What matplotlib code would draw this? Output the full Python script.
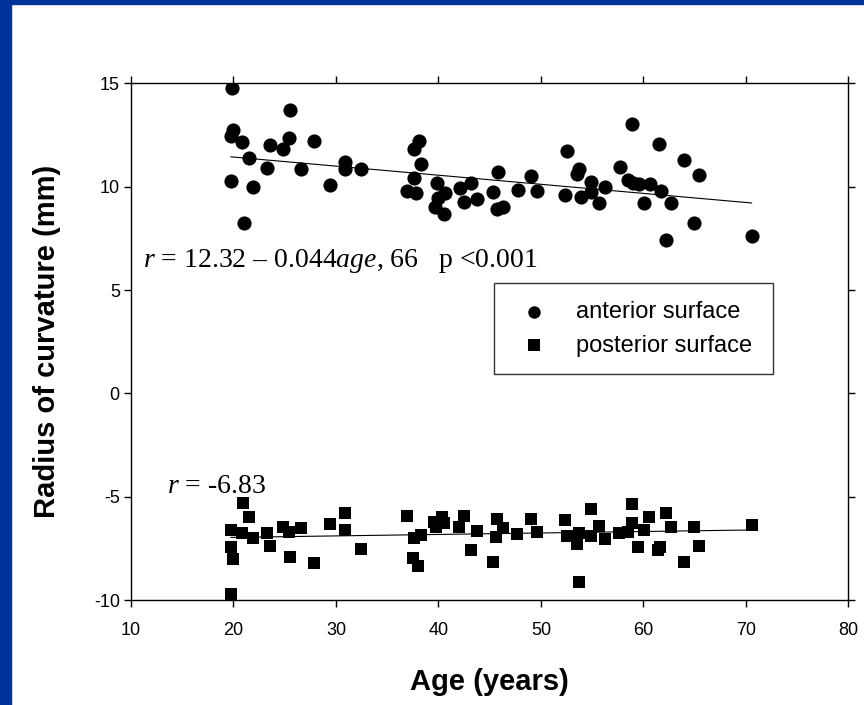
import numpy as np
import matplotlib
matplotlib.use('Agg')
import matplotlib.pyplot as plt
from matplotlib.patches import Rectangle

# anterior surface: age (years), radius of curvature (mm)
ant_age = [19.85, 20.0, 19.75, 20.8, 21.5, 19.8, 21.9, 21.0, 23.3, 23.6, 24.8, 25.4, 25.5,
           26.6, 27.85, 29.4, 30.9, 30.9, 32.4, 36.9, 37.6, 37.6, 38.1, 38.3, 37.8, 39.9,
           40.0, 40.6, 39.65, 40.5, 42.1, 42.5, 43.2, 43.8, 45.35, 45.7, 45.8, 46.3, 47.8,
           49.0, 49.6, 52.3, 52.5, 53.7, 53.55, 53.9, 54.9, 54.9, 55.65, 56.2, 57.7, 58.45,
           59.0, 58.85, 59.6, 60.6, 60.1, 61.5, 61.7, 62.65, 62.2, 64.0, 65.4, 64.9, 70.55]
ant_r = [14.77, 12.75, 12.47, 12.18, 11.38, 10.28, 9.98, 8.26, 10.93, 12.04, 11.85, 12.38, 13.70,
         10.86, 12.23, 10.07, 11.19, 10.88, 10.86, 9.78, 10.41, 11.82, 12.22, 11.10, 9.68, 10.17,
         9.44, 9.68, 9.04, 8.68, 9.93, 9.28, 10.20, 9.39, 9.76, 8.91, 10.70, 9.04, 9.84,
         10.52, 9.78, 9.60, 11.73, 10.86, 10.62, 9.52, 10.22, 9.76, 9.20, 10.0, 10.97, 10.33,
         10.17, 13.03, 10.14, 10.12, 9.20, 12.07, 9.81, 9.20, 7.42, 11.30, 10.57, 8.26, 7.63]

# posterior surface
post_age = [20.96, 21.5, 19.8, 20.8, 21.9, 19.75, 20.0, 19.8, 23.3, 23.6, 24.8, 25.4, 25.5,
            26.6, 27.9, 29.4, 30.9, 30.9, 32.4, 36.96, 37.6, 38.3, 37.5, 38.0, 39.6, 40.3,
            40.5, 39.8, 42.5, 42.0, 43.8, 43.2, 45.7, 46.3, 45.6, 45.3, 47.7, 49.0, 49.6,
            52.3, 52.5, 53.7, 53.55, 53.7, 54.9, 54.9, 55.7, 56.2, 57.6, 58.45, 58.85, 58.85,
            59.5, 60.1, 60.55, 61.45, 61.6, 62.2, 62.65, 64.0, 64.9, 65.4, 70.55]
post_r = [-5.29, -5.97, -6.61, -6.74, -6.98, -7.42, -8.03, -9.71, -6.77, -7.37, -6.48, -6.72, -7.93,
          -6.50, -8.19, -6.34, -5.77, -6.61, -7.55, -5.93, -7.01, -6.85, -7.98, -8.35, -6.21, -5.97,
          -6.29, -6.45, -5.93, -6.45, -6.65, -7.58, -6.10, -6.53, -6.97, -8.15, -6.81, -6.09, -6.69,
          -6.13, -6.89, -6.77, -7.30, -9.14, -5.60, -6.89, -6.42, -7.06, -6.74, -6.69, -5.37, -6.29,
          -7.42, -6.61, -5.97, -7.58, -7.45, -5.77, -6.45, -8.15, -6.45, -7.37, -6.37]

# regression lines (intercept, slope)
ant_fit = (12.32, -0.044)
post_fit = (-7.11, 0.0071)

plt.rcParams['font.family'] = ['Liberation Sans', 'DejaVu Sans']
plt.rcParams['axes.unicode_minus'] = False
plt.rcParams['mathtext.fontset'] = 'custom'
plt.rcParams['mathtext.rm'] = 'Liberation Serif'
plt.rcParams['mathtext.it'] = 'Liberation Serif:italic'

fig = plt.figure(figsize=(8.64, 7.05), dpi=100)
fig.patches.append(Rectangle((0, 0), 11 / 864, 1, transform=fig.transFigure,
                             color='#003399', zorder=0))
fig.patches.append(Rectangle((0, 1 - 4 / 705), 1, 4 / 705, transform=fig.transFigure,
                             color='#003399', zorder=0))

ax = fig.add_axes([0.1516, 0.1489, 0.8304, 0.7327])

ax.scatter(ant_age, ant_r, s=104, marker='o', color='black', linewidths=0,
           label='anterior surface', zorder=3)
ax.scatter(post_age, post_r, s=82, marker='s', color='black', linewidths=0,
           label='posterior surface', zorder=3)

xa = np.array([min(ant_age), max(ant_age)])
ax.plot(xa, ant_fit[0] + ant_fit[1] * xa, color='black', lw=0.8, zorder=2)
xp = np.array([min(post_age), max(post_age)])
ax.plot(xp, post_fit[0] + post_fit[1] * xp, color='black', lw=0.8, zorder=2)

serif = ['Liberation Serif', 'DejaVu Serif']
ax.text(11.14, 6.13, r'$r$ = 12.32 – 0.044$age$, 66   p <0.001', family=serif,
        fontsize=20, va='baseline', ha='left')
ax.text(13.48, -4.84, r'$r$ = -6.83', family=serif, fontsize=20, va='baseline', ha='left')

ax.set_xlim(10, 80)
ax.set_ylim(-10, 15)
ax.set_xticks(range(10, 81, 10))
ax.set_yticks(range(-10, 16, 5))
ax.tick_params(direction='out', length=5, width=1, top=True, right=True,
               labelsize=13, colors='black')
ax.tick_params(axis='x', pad=11)
ax.tick_params(axis='y', pad=3)
for sp in ax.spines.values():
    sp.set_linewidth(1.0)

ax.set_xlabel('Age (years)', fontsize=21, fontweight='bold')
ax.set_ylabel('Radius of curvature (mm)', fontsize=21, fontweight='bold')
ax.xaxis.set_label_coords(0.5, -0.131)
ax.yaxis.set_label_coords(-0.097, 0.5)

leg = ax.legend(loc='upper left', bbox_to_anchor=(0.506, 0.6137, 0.3885, 0.0), mode='expand',
                fontsize=17, frameon=True, fancybox=False, borderpad=0.75,
                handlelength=1.87, handletextpad=0.85, labelspacing=0.5,
                markerscale=0.88, borderaxespad=0)
leg.get_frame().set_edgecolor('black')
leg.get_frame().set_linewidth(1.0)

fig.savefig('out.png', dpi=100)
